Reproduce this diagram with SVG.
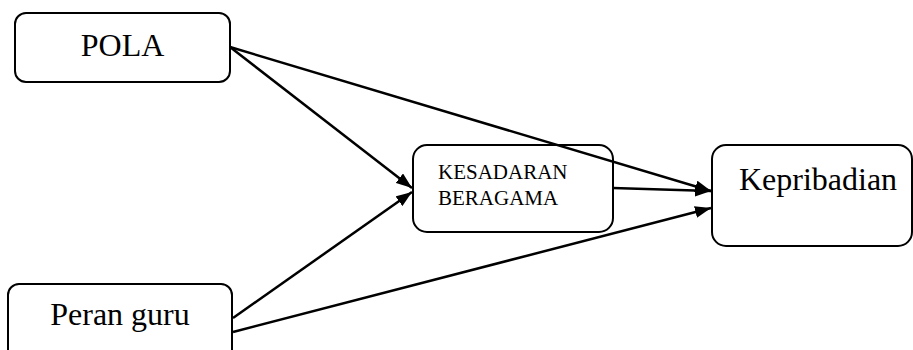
<svg xmlns="http://www.w3.org/2000/svg" width="913" height="350" viewBox="0 0 913 350">
<defs>
<style>
.box{fill:#fff;stroke:#000;stroke-width:2}
.t{font-family:"Liberation Serif","Times New Roman",serif;fill:#000}
.c{stroke:#000;stroke-width:2.5;fill:none;marker-end:url(#ah)}
</style>
<marker id="ah" viewBox="0 0 16 12" refX="16" refY="6" markerWidth="16" markerHeight="12" markerUnits="userSpaceOnUse" orient="auto">
<path d="M0,0 L16,6 L0,12 z" fill="#000"/>
</marker>
</defs>
<rect width="913" height="350" fill="#fff"/>
<g id="pola">
<rect class="box" x="15" y="13" width="215" height="69" rx="11"/>
<text class="t" x="122.5" y="56" font-size="32" text-anchor="middle">POLA</text>
</g>
<g id="kesadaran">
<rect class="box" x="413" y="145" width="200" height="87" rx="14"/>
<text class="t" x="438" y="179" font-size="21">KESADARAN</text>
<text class="t" x="438" y="205" font-size="21">BERAGAMA</text>
</g>
<g id="kepribadian">
<rect class="box" x="712" y="145" width="200" height="101" rx="14"/>
<text class="t" x="818" y="190" font-size="32" text-anchor="middle">Kepribadian</text>
</g>
<g id="peran">
<rect class="box" x="8" y="284" width="224" height="80" rx="11"/>
<text class="t" x="120" y="325" font-size="32" text-anchor="middle">Peran guru</text>
</g>
<g id="connectors">
<line class="c" x1="230" y1="47" x2="412" y2="188"/>
<line class="c" x1="230" y1="47" x2="711" y2="191"/>
<line class="c" x1="613" y1="188" x2="711" y2="191"/>
<line class="c" x1="233" y1="318" x2="412" y2="192"/>
<line class="c" x1="233" y1="332" x2="711" y2="208"/>
</g>
</svg>
